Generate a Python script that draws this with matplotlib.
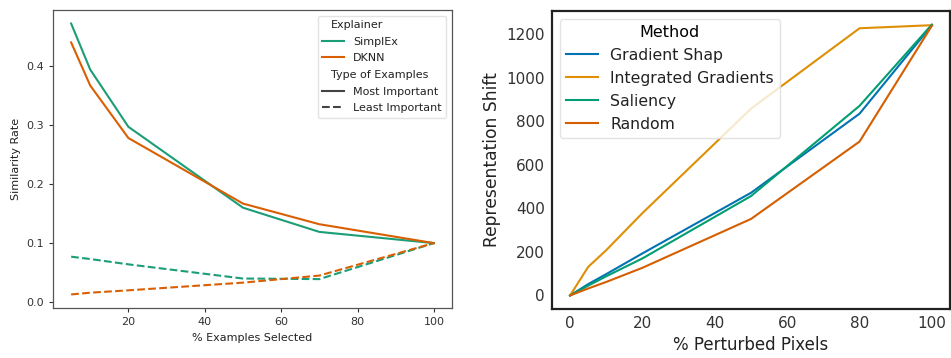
import numpy as np
import matplotlib
matplotlib.use("Agg")
import matplotlib.pyplot as plt
from matplotlib.lines import Line2D

# left panel: similarity rate vs % examples selected
pct_sel = [5, 10, 20, 50, 70, 100]
simplex_most = [0.472, 0.394, 0.297, 0.160, 0.119, 0.100]
dknn_most = [0.440, 0.367, 0.278, 0.167, 0.132, 0.100]
simplex_least = [0.077, 0.073, 0.064, 0.040, 0.039, 0.100]
dknn_least = [0.013, 0.016, 0.020, 0.033, 0.045, 0.100]

# right panel: representation shift vs % perturbed pixels
pct_pix = [0, 5, 10, 20, 50, 80, 100]
grad_shap = [0, 52, 98, 193, 471, 834, 1240]
integ_grad = [0, 131, 208, 378, 857, 1226, 1240]
saliency = [0, 45, 88, 170, 456, 870, 1243]
random_m = [0, 32, 62, 127, 351, 706, 1238]

green, orange = "#1b9e77", "#d95f02"

fig = plt.figure(figsize=(9.51, 3.58), dpi=100)

ax1 = fig.add_axes([53/951, 1-308/358, 399/951, 298/358])
ax1.plot(pct_sel, simplex_most, color=green, lw=1.5)
ax1.plot(pct_sel, dknn_most, color=orange, lw=1.5)
ax1.plot(pct_sel, simplex_least, color=green, lw=1.5, ls="--")
ax1.plot(pct_sel, dknn_least, color=orange, lw=1.5, ls="--")
ax1.set_xticks([20, 40, 60, 80, 100])
ax1.set_yticks([0.0, 0.1, 0.2, 0.3, 0.4])
ax1.set_yticklabels(["0.0", "0.1", "0.2", "0.3", "0.4"])
ax1.tick_params(labelsize=8, colors="#333333", length=3, width=0.8)
for s in ax1.spines.values():
    s.set_color("#555555")
    s.set_linewidth(0.9)
ax1.set_xlabel("% Examples Selected", fontsize=8, color="#222222")
ax1.set_ylabel("Similarity Rate", fontsize=8, color="#222222")

handles = [Line2D([], [], color="none"),
           Line2D([], [], color=green, lw=1.5),
           Line2D([], [], color=orange, lw=1.5),
           Line2D([], [], color="none"),
           Line2D([], [], color="#444444", lw=1.5),
           Line2D([], [], color="#444444", lw=1.5, ls="--")]
labels = ["Explainer", "SimplEx", "DKNN", "Type of Examples",
          "Most Important", "Least Important"]
subtitles = ("Explainer", "Type of Examples")
leg1 = ax1.legend(handles, labels, loc="upper right", fontsize=8,
                  handlelength=2.0, labelspacing=0.6,
                  framealpha=0.8, edgecolor="#dddddd")
for t in leg1.get_texts():
    t.set_color("#222222")
# subtitles: collapse the empty handle area, seaborn style
for col in leg1._legend_handle_box.get_children():
    for row in col.get_children():
        da, ta = row.get_children()
        if ta.get_text() in subtitles:
            da.set_width(0)

ax2 = fig.add_axes([552/951, 1-309/358, 398/951, 298/358])
ax2.plot(pct_pix, grad_shap, color="#0173b2", lw=1.5, label="Gradient Shap")
ax2.plot(pct_pix, integ_grad, color="#de8f05", lw=1.5, label="Integrated Gradients")
ax2.plot(pct_pix, saliency, color="#029e73", lw=1.5, label="Saliency")
ax2.plot(pct_pix, random_m, color="#d55e00", lw=1.5, label="Random")
ax2.set_xticks([0, 20, 40, 60, 80, 100])
ax2.set_yticks([0, 200, 400, 600, 800, 1000, 1200])
ax2.tick_params(labelsize=11, colors="#333333", length=0, pad=5)
for s in ax2.spines.values():
    s.set_color("#222222")
    s.set_linewidth(1.6)
ax2.set_xlabel("% Perturbed Pixels", fontsize=12, color="#222222")
ax2.set_ylabel("Representation Shift", fontsize=12.3, color="#222222")
leg2 = ax2.legend(title="Method", loc="upper left", fontsize=11.3,
                  title_fontsize=11.5, handlelength=2.0,
                  framealpha=0.8, edgecolor="#dddddd")
for t in leg2.get_texts():
    t.set_color("#222222")

fig.savefig("out.png", dpi=100)
